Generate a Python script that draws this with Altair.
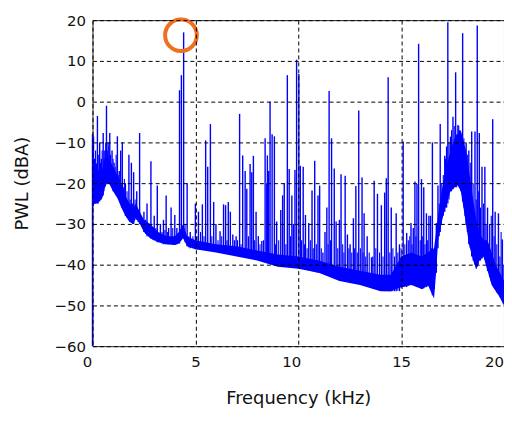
import altair as alt
import pandas as pd

# Dense noise band: frequency (kHz), lower and upper edge (dBA)
band_khz = [0.0, 0.1, 0.2, 0.3, 0.4, 0.5, 0.6, 0.7, 0.8, 0.9, 1.0, 1.2, 1.4, 1.6, 1.8, 2.0, 2.1, 2.3, 2.5,
            2.8, 3.2, 3.6, 4.0, 4.2, 4.4, 4.6, 5.0, 6.0, 7.0, 8.0, 9.0, 10.0, 11.0, 12.0, 13.0, 14.0, 14.5,
            15.0, 15.5, 16.0, 16.3, 16.6, 16.7, 16.8, 17.0, 17.2, 17.4, 17.6, 17.75, 17.9, 18.0, 18.15, 18.3,
            18.5, 18.65, 18.8, 19.0, 19.2, 19.4, 19.6, 19.8, 20.0]
band_low = [-26, -25, -25, -24.5, -24, -23, -21, -20, -20, -21, -22, -23.5, -26, -28, -29.5, -30, -28.5, -30, -32,
            -33.5, -34.5, -35, -35.2, -34.8, -33.5, -35.5, -36.2, -37, -38, -39, -40.5, -41, -42, -44, -45, -46.5, -46.5,
            -45.5, -45, -46, -45, -48.3, -42, -34, -29, -25, -22, -21, -20.5, -22, -25, -30, -35,
            -39, -41, -39, -38, -41.5, -45, -46.5, -48, -50]
band_high = [-17, -16, -15, -17, -18, -16, -14, -13, -14, -15, -16, -18, -20, -23, -25, -26, -25, -27, -29,
             -30, -32, -33, -33, -32, -30, -33, -34, -35, -35.5, -36.5, -37.5, -38, -39, -40.5, -41.5, -42.5, -42.5,
             -38, -37, -38, -37, -36, -32, -28, -21, -16, -12, -9, -8, -7, -9, -12, -17,
             -24, -29, -32, -34, -34, -37, -40, -42, -44]

# Strong spectral peaks: frequency (kHz), peak level and base level (dBA)
peak_khz = [0.0, 0.05, 0.24, 0.35, 0.43, 0.52, 0.6, 0.68, 0.76, 0.84, 0.95, 1.05, 1.21, 1.3, 1.37, 1.45, 1.6,
            1.77, 1.89, 2.0, 2.15, 2.29, 2.5, 2.65, 2.84, 3.0, 3.15, 3.3, 3.45, 3.58, 3.7, 3.82, 4.0, 4.1,
            4.23, 4.32, 4.43, 4.6, 4.75,
            5.0, 5.15, 5.34, 5.5, 5.6, 5.73, 5.89, 6.0, 6.2, 6.37, 6.47, 6.6, 6.7, 6.82, 6.98, 7.15, 7.3,
            7.42, 7.5, 7.66, 7.74, 7.82, 7.95, 8.06, 8.23, 8.39, 8.47, 8.5, 8.56, 8.63, 8.73, 8.84, 8.95,
            9.15, 9.24, 9.32, 9.47, 9.56, 9.69, 9.76, 9.84, 9.92, 10.03, 10.1,
            10.24, 10.35, 10.51, 10.67, 10.8, 10.96, 11.04, 11.2, 11.3, 11.39, 11.5, 11.62, 11.75, 11.84,
            12.0, 12.08, 12.28, 12.39, 12.52, 12.68, 12.8, 12.94, 13.1, 13.2, 13.35, 13.56, 13.69, 13.85,
            14.04, 14.2, 14.28, 14.37, 14.52, 14.76, 14.92,
            15.1, 15.27, 15.48, 15.59, 15.67, 15.77, 15.85, 15.99, 16.1, 16.23, 16.35, 16.43, 16.52, 16.71,
            16.79, 16.9, 17.12, 17.21, 17.27, 17.4, 17.52, 17.65, 17.76, 17.84, 17.99, 18.16, 18.29, 18.43,
            18.59, 18.7, 18.8, 18.93, 19.07, 19.2, 19.45, 19.57, 19.73, 19.92]
peak_db = [-8, -8.5, -3.5, -10, -14, -7.7, -12, -1, -10, -7.7, -12, -15, -8.5, -17, -12, -10, -20,
           -13, -15, -17.3, -22, -7.7, -27, -25, -14.6, -28, -20.6, -30, -29, -23, -31, -26, -27.8, -31,
           2.8, 6.5, 17, -20, -32,
           -25, -27, -25.2, -9.5, -16, -5.5, -24.6, -30, -31.8, -25.2, -25.4, -24.6, -27, -32.6, -33, -3, -13.2,
           -17, -21.4, -15.3, -17.3, -13.3, -27, -33, -34.2, -9, -20, -13.2, -17, 0, -8, -8.5, -29.4,
           -26.6, -23, -20, 6.5, -16.5, -23, -30, -16.8, 10.3, 6.8, -15.7,
           -16, -27.8, -29.8, -21.8, -14.5, -23, -20.6, -37, -32, -26, 2.6, -9, -16.4, -29.4,
           -29, -17.8, -18.2, -32.6, -35, -28.6, -20.7, -2.2, -18.6, -27.4, -33, -38.2, -19.4, -22.6,
           -25.4, -22.3, -18.8, 6, -26, -27.4, -35,
           -9.8, -32.2, -29.8, -31, -19.6, -20.2, 14.2, -19, -21, -27.4, -28, -28, -10, -29.8,
           -20.6, -5.5, -13.3, -11, 19.5, -8.6, -3.7, 7.2, -5.7, -7, 16.8, -10, -12, -7.3,
           -7.3, 18.7, -7.7, -16, -16, -26, -4.3, -27, -27.4, -33.8]
peak_base = [-60, -25, -25, -24.5, -24, -23, -21, -20, -20, -20, -21, -22, -23.5, -24, -25, -26, -28,
             -29, -29.5, -30, -29, -30, -32, -33, -33.5, -34, -34.5, -34.5, -35, -35, -35, -35, -35.2, -35,
             -34.8, -34, -33.5, -35.5, -36,
             -36.2, -36.2, -36.3, -36.4, -36.5, -36.5, -36.6, -36.7, -36.8, -37, -37, -37.1, -37.2, -37.3, -37.5, -37.6, -37.7,
             -37.8, -37.8, -38, -38, -38.2, -38.3, -38.5, -38.8, -39, -39, -39.2, -39.2, -39.3, -39.5, -39.6, -39.8,
             -40, -40.1, -40.2, -40.4, -40.5, -40.6, -40.7, -40.8, -40.8, -41, -41,
             -41, -41.2, -41.4, -41.6, -41.8, -42, -42, -42.2, -42.4, -42.6, -42.8, -43, -43, -43.2,
             -43.5, -43.6, -43.8, -44, -44, -44.2, -44.4, -44.6, -44.8, -45, -45.2, -45.6, -45.8, -46,
             -46.3, -46.5, -46.5, -46.5, -46.5, -46.5, -46.5,
             -45.5, -45.5, -45, -45, -45.2, -45.5, -45.5, -46, -45.8, -45.5, -45.2, -46, -47.5, -42,
             -36, -32, -27, -26, -25, -22, -21.5, -21, -20.5, -21, -24.5, -30, -35, -38,
             -40, -40.5, -39, -38.5, -38, -41.5, -45, -46, -47, -49]

# Minor spikes riding on the noise floor: frequency (kHz), top and base level (dBA)
minor_khz = [0.1, 0.15, 0.28, 0.39, 0.47, 0.56, 0.64, 0.72, 0.8, 0.88, 1.0, 1.1, 1.15, 1.25, 1.5, 1.55,
             1.68, 1.83, 1.95, 2.07, 2.22,
             2.4, 2.58, 2.75, 2.92, 3.08, 3.38, 3.52, 3.64, 3.9, 4.5, 4.68, 4.88, 5.08, 5.25, 5.42, 5.8,
             6.1, 6.28, 6.54, 6.9, 7.05, 7.22, 7.58, 7.88, 8.14, 8.31, 8.9, 9.05, 9.4, 9.62, 10.16, 10.3,
             10.43, 10.59, 10.73, 10.88, 11.12, 11.45, 11.57, 11.92, 12.16, 12.22, 12.46, 12.6, 12.74,
             12.87, 13.02, 13.15, 13.28, 13.45, 13.62, 13.77, 13.95, 14.12, 14.45, 14.6, 14.68, 14.84,
             15.0, 15.18, 15.35, 15.42, 15.53, 15.72, 15.93, 16.05, 16.16, 16.29, 16.48, 16.62,
             16.85, 16.95, 17.05, 17.16, 17.33, 17.45, 17.58, 17.7, 17.8, 17.9, 18.05, 18.1, 18.22,
             18.36, 18.5, 18.65, 18.75, 18.86, 19.0, 19.13, 19.3, 19.38, 19.52, 19.65, 19.8, 19.86, 19.96]
minor_db = [-14, -12, -13, -15, -12, -14, -10, -12, -11, -13, -14, -16, -13, -18, -21, -19,
            -22, -24, -25, -24, -27,
            -31, -29, -31, -32, -31, -32, -31.5, -32, -31, -30, -33, -33, -33, -32, -33, -33,
            -34, -33, -34, -34, -34, -35, -33, -34, -35, -34, -35, -34, -35, -33, -34, -35,
            -36, -34, -36, -35, -36, -35, -34, -36, -35, -37, -36, -37, -36,
            -37, -36, -37, -38, -37, -38, -36, -37, -38, -37, -36, -38, -37,
            -36, -35, -34, -33, -35, -33, -34, -33, -35, -34, -36, -37,
            -25, -20, -18, -14, -10, -7, -6, -8, -6, -8, -9, -12, -13,
            -15, -20, -24, -22, -26, -25, -30, -30, -28, -33, -35, -38, -32, -40]
minor_base = [-25, -25, -25, -24, -23.5, -22, -20.5, -20, -20, -20.5, -22, -22.5, -23, -23.5, -26.5, -27,
              -28.5, -29, -30, -29, -29.5,
              -31, -32.5, -33, -33.8, -34, -34.8, -35, -35, -35.1, -34.5, -35.7, -36, -36.2, -36.3, -36.4, -36.6,
              -36.8, -36.9, -37.1, -37.4, -37.5, -37.6, -37.9, -38.2, -38.6, -38.9, -39.8, -40, -40.3, -40.6, -41, -41.1,
              -41.3, -41.5, -41.7, -41.9, -42.1, -42.7, -42.9, -43.3, -43.7, -43.7, -44, -44.1, -44.3,
              -44.5, -44.7, -44.9, -45.1, -45.4, -45.7, -45.9, -46.1, -46.4, -46.5, -46.5, -46.5, -46.4,
              -45.7, -45.5, -45.2, -45, -45, -45.3, -45.7, -46, -45.6, -45.3, -46.8, -46,
              -33, -30, -28, -26, -24, -22, -21, -21, -20.7, -22, -26, -28, -32,
              -36, -39, -41, -40, -39, -38, -39.5, -43, -44, -45.5, -46.8, -48, -48.5, -49.5]

# Highlight circle around the strongest tonal peak
mark_khz = [4.3]
mark_db = [16.3]

band_df = pd.DataFrame({"f": band_khz, "lo": band_low, "hi": band_high})
peak_df = pd.DataFrame({"f": peak_khz, "top": peak_db, "base": peak_base})
minor_df = pd.DataFrame({"f": minor_khz, "top": minor_db, "base": minor_base})
mark_df = pd.DataFrame({"f": mark_khz, "db": mark_db})

FONT = "DejaVu Sans"
xscale = alt.Scale(domain=[0, 20], nice=False, zero=False)
yscale = alt.Scale(domain=[-60, 20], nice=False, zero=False)

xaxis = alt.Axis(values=[0, 5, 10, 15, 20], title="Frequency (kHz)", grid=True,
                 gridDash=[4, 3], gridColor="black", gridOpacity=1, gridWidth=1,
                 domain=False, tickSize=0, labelPadding=8, labelFontSize=15,
                 labelOffset={"expr": "datum.value == 0 ? -5.5 : (datum.value == 10 ? -7 : (datum.value == 20 ? -10 : 0))"},
                 labelFont=FONT, labelColor="#111", titleFont=FONT, titleFontSize=18,
                 titleFontWeight="normal", titleColor="#111", titlePadding=21, zindex=1,
                 labelFlush=False)
yaxis = alt.Axis(values=[-60, -50, -40, -30, -20, -10, 0, 10, 20], title="PWL (dBA)", grid=True,
                 gridDash=[4, 3], gridColor="black", gridOpacity=1, gridWidth=1,
                 domain=False, tickSize=0, labelPadding=7, labelFontSize=15,
                 labelFont=FONT, labelColor="#111", titleFont=FONT, titleFontSize=18,
                 titleFontWeight="normal", titleColor="#111", titlePadding=23, zindex=1,
                 labelFlush=False)

band = alt.Chart(band_df).mark_area(color="#0000FF", opacity=1).encode(
    x=alt.X("f:Q", scale=xscale, axis=xaxis),
    y=alt.Y("lo:Q", scale=yscale, axis=yaxis),
    y2="hi:Q",
)

peaks = alt.Chart(peak_df).mark_rule(color="#0000FF", strokeWidth=1.4).encode(
    x=alt.X("f:Q", scale=xscale),
    y=alt.Y("top:Q", scale=yscale),
    y2="base:Q",
)

minor = alt.Chart(minor_df).mark_rule(color="#0000FF", strokeWidth=1.1).encode(
    x=alt.X("f:Q", scale=xscale),
    y=alt.Y("top:Q", scale=yscale),
    y2="base:Q",
)

circle = alt.Chart(mark_df).mark_point(shape="circle", filled=False, color="#F07020",
                                       strokeWidth=4, size=1018, opacity=1).encode(
    x=alt.X("f:Q", scale=xscale),
    y=alt.Y("db:Q", scale=yscale),
)

chart = alt.layer(band, minor, peaks, circle).properties(
    width=414, height=328,
    autosize=alt.AutoSizeParams(type="none"),
    padding={"left": 85, "top": 11, "right": 0, "bottom": 64},
).configure_view(stroke="#222", strokeWidth=1)

chart.save("out.html", embed_options={"renderer": "svg", "actions": False})
